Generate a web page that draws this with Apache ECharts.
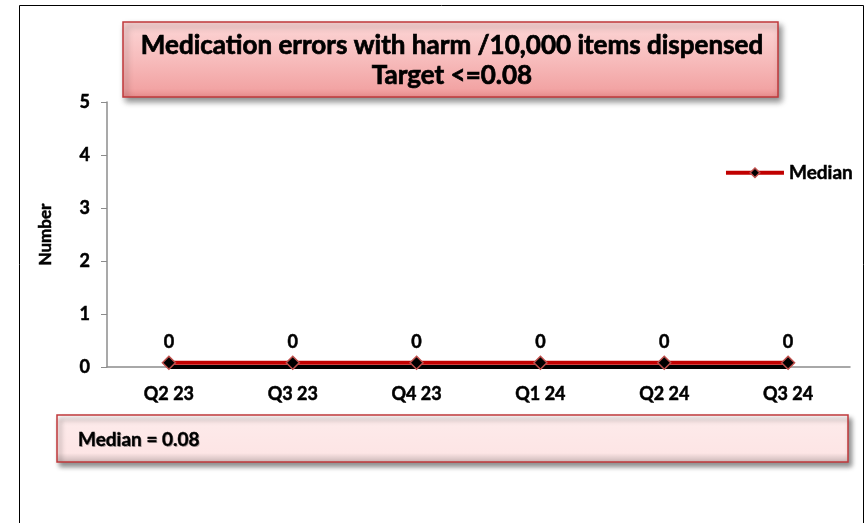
<!DOCTYPE html>
<html><head><meta charset="utf-8">
<script src="https://cdn.jsdelivr.net/npm/echarts@6/dist/echarts.min.js"></script>
<style>html,body{margin:0;padding:0;background:#fff}#c{width:866px;height:523px}</style>
</head><body><div id="c"></div>
<script>
var categories = ['Q2 23','Q3 23','Q4 23','Q1 24','Q2 24','Q3 24'];
var numberValues = [0,0,0,0,0,0];
var medianValues = [0.08,0.08,0.08,0.08,0.08,0.08];
var yTicks = [0,1,2,3,4,5];
var titleLine1 = 'Medication errors with harm /10,000 items dispensed';
var titleLine2 = 'Target <=0.08';
var medianText = 'Median = 0.08';

var FONT = 'Lato';
var B = {textBorderColor:'#000', textBorderWidth:0.5};
var chart = echarts.init(document.getElementById('c'), null, {renderer:'canvas'});
chart.setOption({
  animation:false,
  textStyle:{fontFamily:FONT},
  grid:{left:107, right:16, top:102, bottom:156},
  legend:{
    data:[{name:'Median'}],
    right:8, top:158, itemWidth:58, itemHeight:12, itemGap:4,
    lineStyle:{width:4, color:'#c00000'},
    itemStyle:{color:'#000', borderColor:'#c0504d', borderWidth:1.5},
    textStyle:Object.assign({fontFamily:FONT, fontWeight:'bold', fontSize:19, color:'#000'}, B)
  },
  xAxis:{
    type:'category', data:categories, boundaryGap:true,
    axisLine:{lineStyle:{color:'#8c8c8c', width:1.5}},
    axisTick:{show:false},
    axisLabel:Object.assign({fontFamily:FONT, fontWeight:'bold', fontSize:18, color:'#000', margin:18}, B)
  },
  yAxis:{
    type:'value', min:0, max:5, interval:1,
    name:'Number', nameLocation:'middle', nameGap:53, nameRotate:90,
    nameTextStyle:Object.assign({fontFamily:FONT, fontWeight:'bold', fontSize:17, color:'#000'}, B),
    axisLine:{show:true, lineStyle:{color:'#8c8c8c', width:1.5}},
    axisTick:{show:true, length:6, lineStyle:{color:'#8c8c8c'}},
    splitLine:{show:false},
    axisLabel:Object.assign({fontFamily:FONT, fontWeight:'bold', fontSize:18, color:'#000', margin:17}, B)
  },
  series:[
    {
      name:'Number', type:'line', data:numberValues,
      symbol:'circle', symbolSize:0, showSymbol:true,
      itemStyle:{color:'#000'},
      lineStyle:{color:'#000', width:4},
      label:Object.assign({show:true, position:'top', distance:16, fontFamily:FONT, fontWeight:'bold', fontSize:18, color:'#000'}, B),
      labelLayout:{hideOverlap:false},
      z:2
    },
    {
      name:'Median', type:'line', data:medianValues,
      symbol:'diamond', symbolSize:13,
      itemStyle:{color:'#000', borderColor:'#c0504d', borderWidth:1.5},
      lineStyle:{color:'#c00000', width:4},
      z:3
    }
  ],
  graphic:[
    {type:'rect', shape:{x:19.5, y:5.5, width:844, height:520}, style:{fill:'none', stroke:'#000', lineWidth:1}, z:-10, silent:true},
    {type:'group', children:[
      {type:'rect', shape:{x:123, y:22, width:655, height:75},
       style:{
         fill:new echarts.graphic.LinearGradient(0,0,0,1,[
           {offset:0,color:'#fbd6d6'},{offset:0.12,color:'#fbd0d0'},{offset:0.5,color:'#f7bcbc'},{offset:0.88,color:'#f2a4a4'},{offset:1,color:'#e88c8c'}]),
         stroke:'#c0393b', lineWidth:1.5,
         shadowBlur:6, shadowOffsetX:3, shadowOffsetY:4, shadowColor:'rgba(0,0,0,0.45)'
       }, z:10},
      {type:'text', x:452, y:46, style:{text:titleLine1, fontFamily:FONT, fontWeight:'bold', fontSize:26, fill:'#000', align:'center', verticalAlign:'middle', stroke:'#000', lineWidth:0.7}, z:11},
      {type:'text', x:452, y:76, style:{text:titleLine2, fontFamily:FONT, fontWeight:'bold', fontSize:26, fill:'#000', align:'center', verticalAlign:'middle', stroke:'#000', lineWidth:0.7}, z:11}
    ]},
    {type:'group', children:[
      {type:'rect', shape:{x:57, y:415, width:791, height:47},
       style:{
         fill:new echarts.graphic.LinearGradient(0,0,0,1,[
           {offset:0,color:'#ffffff'},{offset:0.15,color:'#fdeaea'},{offset:0.8,color:'#fde5e5'},{offset:1,color:'#c9b5b5'}]),
         stroke:'#c0393b', lineWidth:1.5,
         shadowBlur:5, shadowOffsetX:3, shadowOffsetY:4, shadowColor:'rgba(0,0,0,0.45)'
       }, z:10},
      {type:'text', x:79, y:441, style:{text:medianText, fontFamily:FONT, fontWeight:'bold', fontSize:19, fill:'rgba(0,0,0,0.3)', verticalAlign:'middle'}, z:11},
      {type:'text', x:78, y:440, style:{text:medianText, fontFamily:FONT, fontWeight:'bold', fontSize:19, fill:'#000', verticalAlign:'middle', stroke:'#000', lineWidth:0.4}, z:12}
    ]}
  ]
});
</script></body></html>
